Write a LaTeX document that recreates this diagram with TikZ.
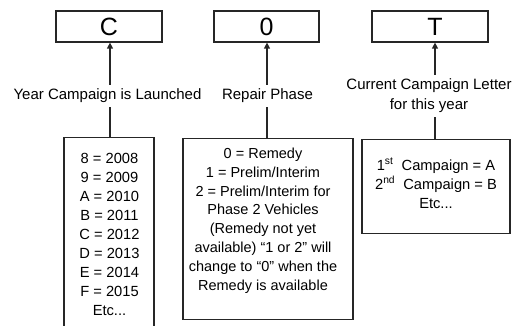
\documentclass[tikz,border=0pt]{standalone}
\usepackage{fontspec}
\setmainfont{Liberation Sans}
\usetikzlibrary{arrows.meta}
\begin{document}
\begin{tikzpicture}[x=1pt,y=-1pt,
  box/.style={draw=black!85, line width=1.2pt, inner sep=0pt},
  letter/.style={box, minimum height=31pt, font=\fontsize{25}{28}\selectfont},
  lbl/.style={font=\fontsize{15}{20}\selectfont, inner xsep=0pt, inner ysep=4pt, align=center},
  body/.style={font=\fontsize{14.7}{19}\selectfont, inner sep=0pt, align=center, anchor=north},
  arr/.style={line width=1.2pt, draw=black!85, -{Triangle[width=6pt,length=6pt]}},
  ln/.style={line width=1.2pt, draw=black!85}]
\useasboundingbox (0,0) rectangle (525,326);
\clip (0,0) rectangle (525,326);
% top boxes
\node[letter, minimum width=106pt] (bC) at (109,26.5) {C};
\node[letter, minimum width=105pt] (b0) at (266.5,26.5) {0};
\node[letter, minimum width=116pt] (bT) at (430,26.5) {\hspace*{10pt}T};
% connector x positions
\coordinate (xC) at (110,0);
\coordinate (x0) at (267,0);
\coordinate (xT) at (435,0);
% labels
\node[lbl] (lC) at (107.5,96) {Year Campaign is Launched};
\node[lbl] (l0) at (267.5,96) {Repair Phase};
\node[lbl] (lT) at (429,96) {Current Campaign Letter\\for this year};
% lower boxes
\node[box, anchor=north, minimum width=90pt, minimum height=220pt] (B1) at (109,137) {};
\node[box, anchor=north, minimum width=170pt, minimum height=181pt] (B2) at (268,138) {};
\node[box, anchor=north, minimum width=148pt, minimum height=94pt] (B3) at (436,139) {};
% texts
\node[body] (t1) at (109.5,152.8) {8 = 2008\\9 = 2009\\A = 2010\\B = 2011\\C = 2012\\D = 2013\\E = 2014\\F = 2015\\Etc...};
\node[body, font=\fontsize{14.5}{18.8}\selectfont] (t2) at (263,147.8) {0 = Remedy\\1 = Prelim/Interim\\2 = Prelim/Interim for\\Phase 2 Vehicles\\(Remedy not yet\\available) “1 or 2” will\\change to “0” when the\\Remedy is available};
\node[body] (t3) at (436,158) {1\textsuperscript{st}\ \ Campaign = A\\2\textsuperscript{nd}\ \ Campaign = B\\Etc...};
% connectors
\draw[arr] (lC.north -| xC) -- (bC.south -| xC);
\draw[arr] (l0.north -| x0) -- (b0.south -| x0);
\draw[arr] (lT.north -| xT) -- (bT.south -| xT);
\draw[ln] (lC.south -| xC) -- (B1.north -| xC);
\draw[ln] (l0.south -| x0) -- (B2.north -| x0);
\draw[ln] (lT.south -| xT) -- (B3.north -| xT);
\end{tikzpicture}
\end{document}
